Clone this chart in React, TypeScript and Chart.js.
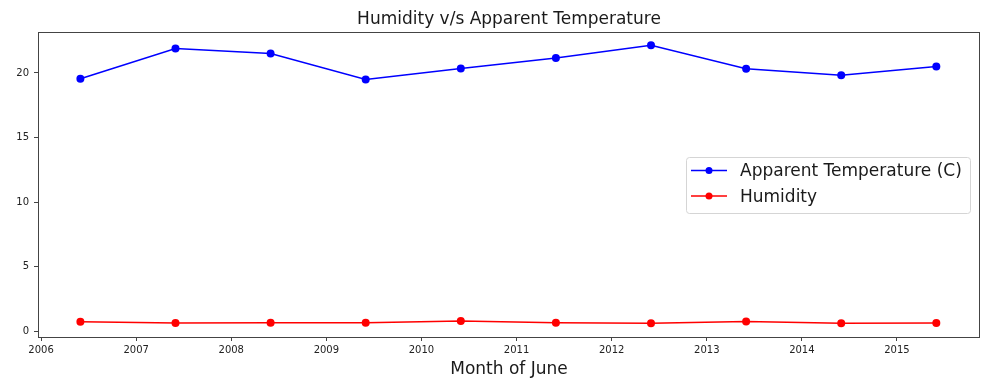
import React, { useEffect, useRef } from 'react';
import { Chart, registerables } from 'chart.js';

Chart.register(...registerables);

const years = [2006, 2007, 2008, 2009, 2010, 2011, 2012, 2013, 2014, 2015];
const apparentTemperature = [19.55, 21.9, 21.5, 19.5, 20.35, 21.15, 22.15, 20.32, 19.83, 20.5];
const humidity = [0.75, 0.65, 0.68, 0.67, 0.81, 0.67, 0.64, 0.76, 0.63, 0.66];
const xTickValues = [2006, 2007, 2008, 2009, 2010, 2011, 2012, 2013, 2014, 2015];
const yTickValues = [0, 5, 10, 15, 20];
const seriesLabels = ['Apparent Temperature (C)', 'Humidity'];
const seriesColors = ['#0000ff', '#ff0000'];
const titleText = 'Humidity v/s Apparent Temperature';
const xTitleText = 'Month of June';

const JUNE_OFFSET = 151 / 365;
const FONT = '"DejaVu Sans", sans-serif';

const framePlugin = {
  id: 'mplFrame',
  afterDraw(chart: any) {
    const { ctx, chartArea } = chart;
    const { left, right, top, bottom } = chartArea;
    ctx.save();
    // frame
    ctx.strokeStyle = '#444';
    ctx.lineWidth = 1;
    ctx.strokeRect(Math.round(left) + 0.5, Math.round(top) + 0.5, Math.round(right - left) - 1, Math.round(bottom - top));
    // titles
    ctx.fillStyle = '#1a1a1a';
    ctx.font = `17px ${FONT}`;
    ctx.textAlign = 'center';
    ctx.textBaseline = 'middle';
    const cx = (left + right) / 2;
    ctx.fillText(titleText, cx, 19.5);
    ctx.fillText(xTitleText, cx, 369.5);
    // legend
    const bx = 686, by = 157, bw = 284, bh = 56;
    ctx.beginPath();
    (ctx as any).roundRect(bx + 0.5, by + 0.5, bw, bh, 3);
    ctx.fillStyle = 'rgba(255,255,255,0.8)';
    ctx.fill();
    ctx.strokeStyle = '#d5d5d5';
    ctx.stroke();
    const rows = [170.5, 196];
    seriesLabels.forEach((label, i) => {
      const y = rows[i];
      ctx.strokeStyle = seriesColors[i];
      ctx.lineWidth = 1.5;
      ctx.beginPath();
      ctx.moveTo(691, y);
      ctx.lineTo(727, y);
      ctx.stroke();
      ctx.fillStyle = seriesColors[i];
      ctx.beginPath();
      ctx.arc(709, y, 3.5, 0, Math.PI * 2);
      ctx.fill();
      ctx.fillStyle = '#1a1a1a';
      ctx.font = `17px ${FONT}`;
      ctx.textAlign = 'left';
      ctx.textBaseline = 'middle';
      ctx.fillText(label, 740, y + 1.5);
    });
    ctx.restore();
  },
};

export default function App() {
  const canvasRef = useRef<HTMLCanvasElement | null>(null);

  useEffect(() => {
    document.body.style.margin = '0';
    const canvas = canvasRef.current;
    if (!canvas) return;
    const xs = years.map((y) => y + JUNE_OFFSET);
    const chart = new Chart(canvas, {
      type: 'line',
      data: {
        datasets: [
          {
            label: seriesLabels[0],
            data: xs.map((x, i) => ({ x, y: apparentTemperature[i] })),
            borderColor: seriesColors[0],
            backgroundColor: seriesColors[0],
            borderWidth: 1.5,
            pointRadius: 4,
            pointBorderWidth: 0,
            tension: 0,
          },
          {
            label: seriesLabels[1],
            data: xs.map((x, i) => ({ x, y: humidity[i] })),
            borderColor: seriesColors[1],
            backgroundColor: seriesColors[1],
            borderWidth: 1.5,
            pointRadius: 4,
            pointBorderWidth: 0,
            tension: 0,
          },
        ],
      },
      options: {
        animation: false,
        responsive: false,
        devicePixelRatio: 1,
        layout: { padding: { top: 32, right: 10, left: 0, bottom: 0 } },
        plugins: {
          legend: { display: false },
          title: { display: false },
          tooltip: { enabled: false },
        },
        scales: {
          x: {
            type: 'linear',
            min: 2005.968,
            max: 2015.873,
            afterFit: (scale: any) => {
              scale.height = 48;
            },
            afterBuildTicks: (scale: any) => {
              scale.ticks = xTickValues.map((v) => ({ value: v }));
            },
            grid: { drawOnChartArea: false, drawTicks: true, tickLength: 4, color: '#444' },
            border: { display: false },
            ticks: {
              autoSkip: false,
              maxRotation: 0,
              padding: 3,
              color: '#222',
              font: { family: FONT, size: 10 },
              callback: (v: any) => String(Math.round(Number(v))),
            },
          },
          y: {
            type: 'linear',
            min: -0.43,
            max: 23.17,
            afterFit: (scale: any) => {
              scale.width = 38;
            },
            afterBuildTicks: (scale: any) => {
              scale.ticks = yTickValues.map((v) => ({ value: v }));
            },
            grid: { drawOnChartArea: false, drawTicks: true, tickLength: 4, color: '#444' },
            border: { display: false },
            ticks: {
              padding: 5,
              color: '#222',
              font: { family: FONT, size: 10 },
              callback: (v: any) => String(Math.round(Number(v))),
            },
          },
        },
      },
      plugins: [framePlugin],
    });
    return () => chart.destroy();
  }, []);

  return <canvas ref={canvasRef} width={990} height={385} style={{ display: 'block', width: 990, height: 385 }} />;
}
